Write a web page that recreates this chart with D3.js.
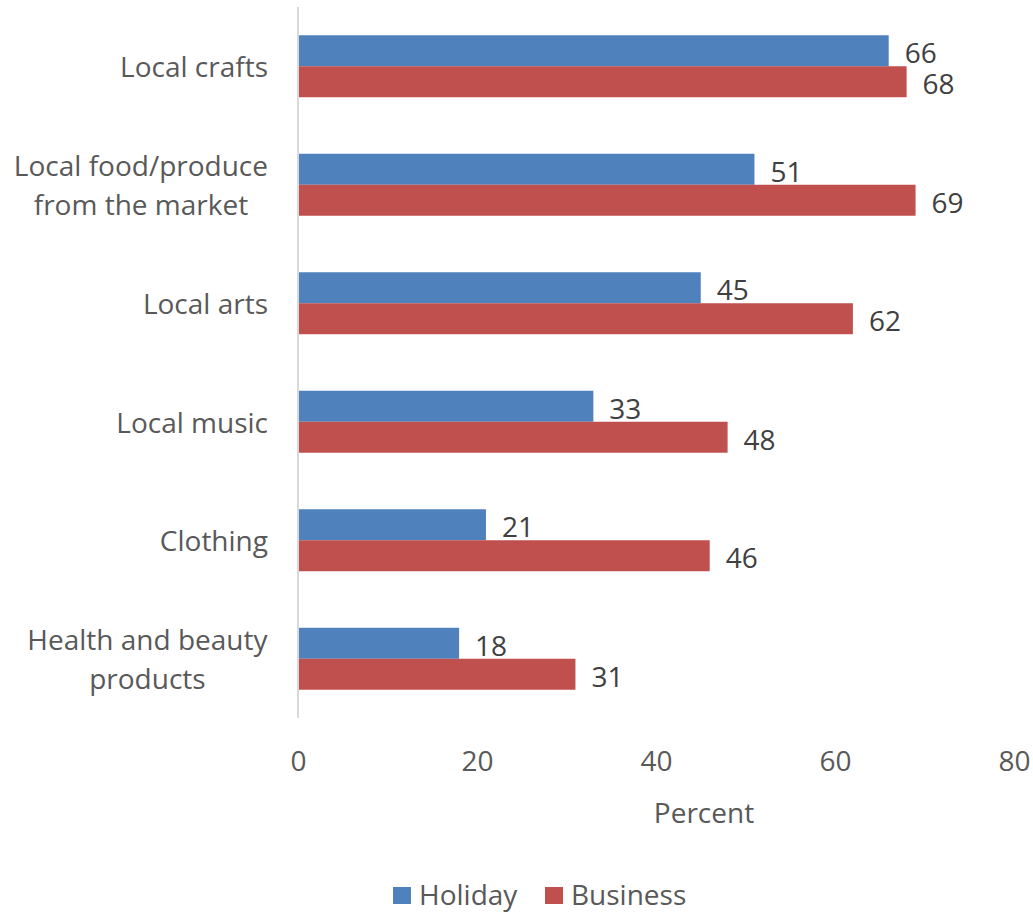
<!DOCTYPE html>
<html>
<head>
<meta charset="utf-8">
<script src="https://cdn.jsdelivr.net/npm/d3@7"></script>
<style>
  html, body { margin: 0; padding: 0; background: #fff; }
  svg { display: block; font-family: "Open Sans", sans-serif; }
</style>
</head>
<body>
<svg id="chart" width="1033" height="913"></svg>
<script>
// Souvenir / experience categories, top to bottom
const categories = [
  ["Local crafts"],
  ["Local food/produce", "from the market"],
  ["Local arts"],
  ["Local music"],
  ["Clothing"],
  ["Health and beauty", "products"]
];
const seriesNames = ["Holiday", "Business"];
const holiday = [66, 51, 45, 33, 21, 18];
const business = [68, 69, 62, 48, 46, 31];
const xTicks = [0, 20, 40, 60, 80];
const xTitle = "Percent";

const colors = { Holiday: "#4f81bd", Business: "#c0504d" };
const seriesValues = { Holiday: holiday, Business: business };

const FS = 28;
const svg = d3.select("#chart");
const margin = { left: 298, right: 19, top: 7, bottom: 195 };
const W = 1033, H = 913;

const x = d3.scaleLinear().domain([0, 80]).range([margin.left, W - margin.right]);
const y = d3.scaleBand().domain(d3.range(categories.length))
  .range([margin.top, H - margin.bottom]).paddingInner(0.477).paddingOuter(0.2385);
const ySub = d3.scaleBand().domain(seriesNames).range([0, y.bandwidth()]);

// bars and value labels
seriesNames.forEach(s => {
  svg.append("g").selectAll("rect")
    .data(seriesValues[s])
    .join("rect")
    .attr("x", x(0) + 1)
    .attr("y", (d, i) => y(i) + ySub(s))
    .attr("width", d => x(d) - x(0) - 1)
    .attr("height", ySub.bandwidth())
    .attr("fill", colors[s]);
  svg.append("g").selectAll("text")
    .data(seriesValues[s])
    .join("text")
    .attr("x", d => x(d) + 16)
    .attr("y", (d, i) => y(i) + ySub(s) + ySub.bandwidth() / 2 + 1.5)
    .attr("dominant-baseline", "central")
    .attr("font-size", FS)
    .attr("fill", "#404040")
    .text(d => d);
});

// vertical axis line
svg.append("line")
  .attr("x1", x(0)).attr("x2", x(0))
  .attr("y1", margin.top).attr("y2", H - margin.bottom)
  .attr("stroke", "#d9d9d9").attr("stroke-width", 2);

// category labels (lines centred, block right-aligned)
const lineH = 39;
categories.forEach((lines, i) => {
  const cy = y(i) + y.bandwidth() / 2;
  const t = svg.append("text")
    .attr("font-size", FS).attr("fill", "#595959")
    .attr("text-anchor", "middle");
  lines.forEach((ln, k) => {
    t.append("tspan")
      .attr("x", 0)
      .attr("y", cy + (k - (lines.length - 1) / 2) * lineH)
      .attr("dominant-baseline", "central")
      .text(ln);
  });
  const bw = t.node().getBBox().width;
  t.attr("transform", `translate(${268 - bw / 2},0)`);
});

// x axis tick labels
const xAxis = d3.axisBottom(x).tickValues(xTicks).tickSize(0).tickPadding(0);
const gx = svg.append("g").attr("transform", `translate(0,${H - margin.bottom})`).call(xAxis);
gx.select(".domain").remove();
gx.selectAll("text")
  .attr("font-size", FS).attr("fill", "#595959")
  .attr("font-family", "Open Sans, sans-serif")
  .attr("dy", null).attr("y", 53);

// axis title
svg.append("text")
  .attr("x", 704).attr("y", 823)
  .attr("text-anchor", "middle")
  .attr("font-size", FS).attr("fill", "#595959")
  .text(xTitle);

// legend
const legendItems = [
  { name: "Holiday", sx: 393 },
  { name: "Business", sx: 545 }
];
legendItems.forEach(it => {
  svg.append("rect").attr("x", it.sx).attr("y", 887).attr("width", 18).attr("height", 17)
    .attr("fill", colors[it.name]);
  svg.append("text").attr("x", it.sx + 26).attr("y", 905)
    .attr("font-size", FS).attr("fill", "#595959").text(it.name);
});
</script>
</body>
</html>
